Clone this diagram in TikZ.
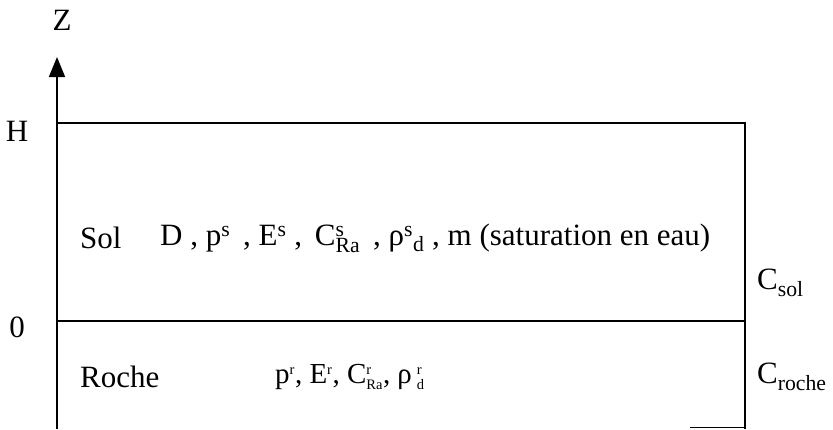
\documentclass[tikz,border=0pt]{standalone}
\usepackage{fontspec}
\setmainfont{Liberation Serif}
\usetikzlibrary{arrows.meta}
\begin{document}
\begin{tikzpicture}[x=1pt,y=-1pt,
  lbl/.style={font=\fontsize{31}{35}\selectfont, inner sep=0pt},
  small/.style={font=\fontsize{29}{33}\selectfont, inner sep=0pt},
  ln/.style={line width=1.6pt}]
\useasboundingbox (0,0) rectangle (833,429);
\coordinate (ax0) at (57,429);
\coordinate (axtop) at (57,57);
\coordinate (h0) at (57,123);
\coordinate (h1) at (745,123);
\coordinate (z0) at (57,321);
\coordinate (z1) at (745,321);
\coordinate (b1) at (745,429);
\coordinate (bs) at (690,427);
\draw[ln,-{Triangle[length=20pt,width=16pt]}] (ax0) -- (axtop);
\draw[ln] (h0) -- (h1) -- (b1);
\draw[ln] (z0) -- (z1);
\draw[line width=1pt] (bs) -- (b1|-bs);
\node[lbl] (Z) at (62,20) {Z};
\node[lbl] (H) at (17,131) {H};
\node[lbl] (O) at (17,327) {0};
\node[lbl,anchor=west] (sol) at (80,238) {Sol};
\node[lbl,anchor=west] (solp) at (160,238) {D , p$^{\mathrm{s}}$\, , E$^{\mathrm{s}}$ , \,C$^{\mathrm{s}}_{\mathrm{Ra}}$\, , ρ$^{\mathrm{s}}{}_{\mathrm{d}}$ , m (saturation en eau)};
\node[lbl,anchor=west] (csol) at (757,283) {C$_{\mathrm{sol}}$};
\node[lbl,anchor=west] (roche) at (80,377) {Roche};
\node[small,anchor=west] (rochep) at (275,377) {p$^{\scriptscriptstyle\mathrm{r}}$, E$^{\scriptscriptstyle\mathrm{r}}$, C$^{\scriptscriptstyle\mathrm{r}}_{\scriptscriptstyle\mathrm{Ra}}$, ρ\,$^{\scriptscriptstyle\mathrm{r}}_{\scriptscriptstyle\mathrm{d}}$};
\node[lbl,anchor=west] (croche) at (757,377) {C$_{\mathrm{roche}}$};
\end{tikzpicture}
\end{document}
